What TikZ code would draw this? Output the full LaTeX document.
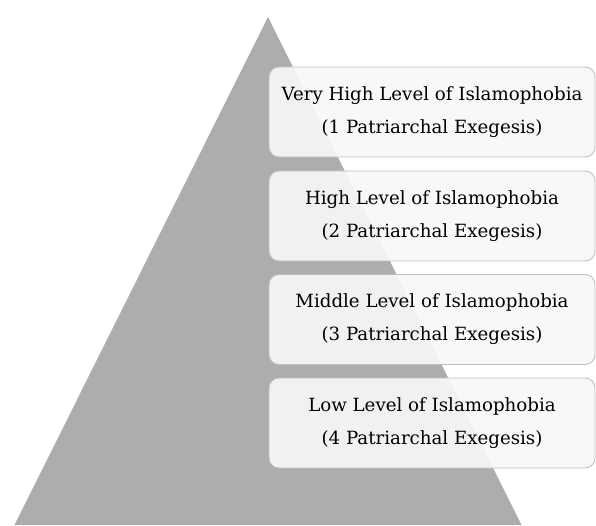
\documentclass[tikz,border=0pt]{standalone}
\usepackage{fontspec}
\setmainfont{DejaVu Serif}
\usepackage{tikz}
\tikzset{%
    level/.style={%
        draw=black!25, line width=0.9pt, fill=black!3, fill opacity=0.93,
        text opacity=1, rounded corners=10pt,
        minimum width=326pt, minimum height=90pt, inner sep=0pt,
        align=center, font=\fontsize{18.2}{33}\selectfont
    }
}

\begin{document}
\begin{tikzpicture}[x=1pt,y=1pt]
\useasboundingbox (0,0) rectangle (596,525);
%\draw [help lines, step=50] (0,0) grid (596,525);

% the pyramid
\fill[black!32] (14.5,0) -- (268,508) -- (521.5,0) -- cycle;

% levels, top to bottom
\node[level] (P1) at (432,413) {Very High Level of Islamophobia\\(1 Patriarchal Exegesis)};
\node[level] (P2) at (432,309) {High Level of Islamophobia\\(2 Patriarchal Exegesis)};
\node[level] (P3) at (432,205.5) {Middle Level of Islamophobia\\(3 Patriarchal Exegesis)};
\node[level] (P4) at (432,102) {Low Level of Islamophobia\\(4 Patriarchal Exegesis)};
\end{tikzpicture}
\end{document}
